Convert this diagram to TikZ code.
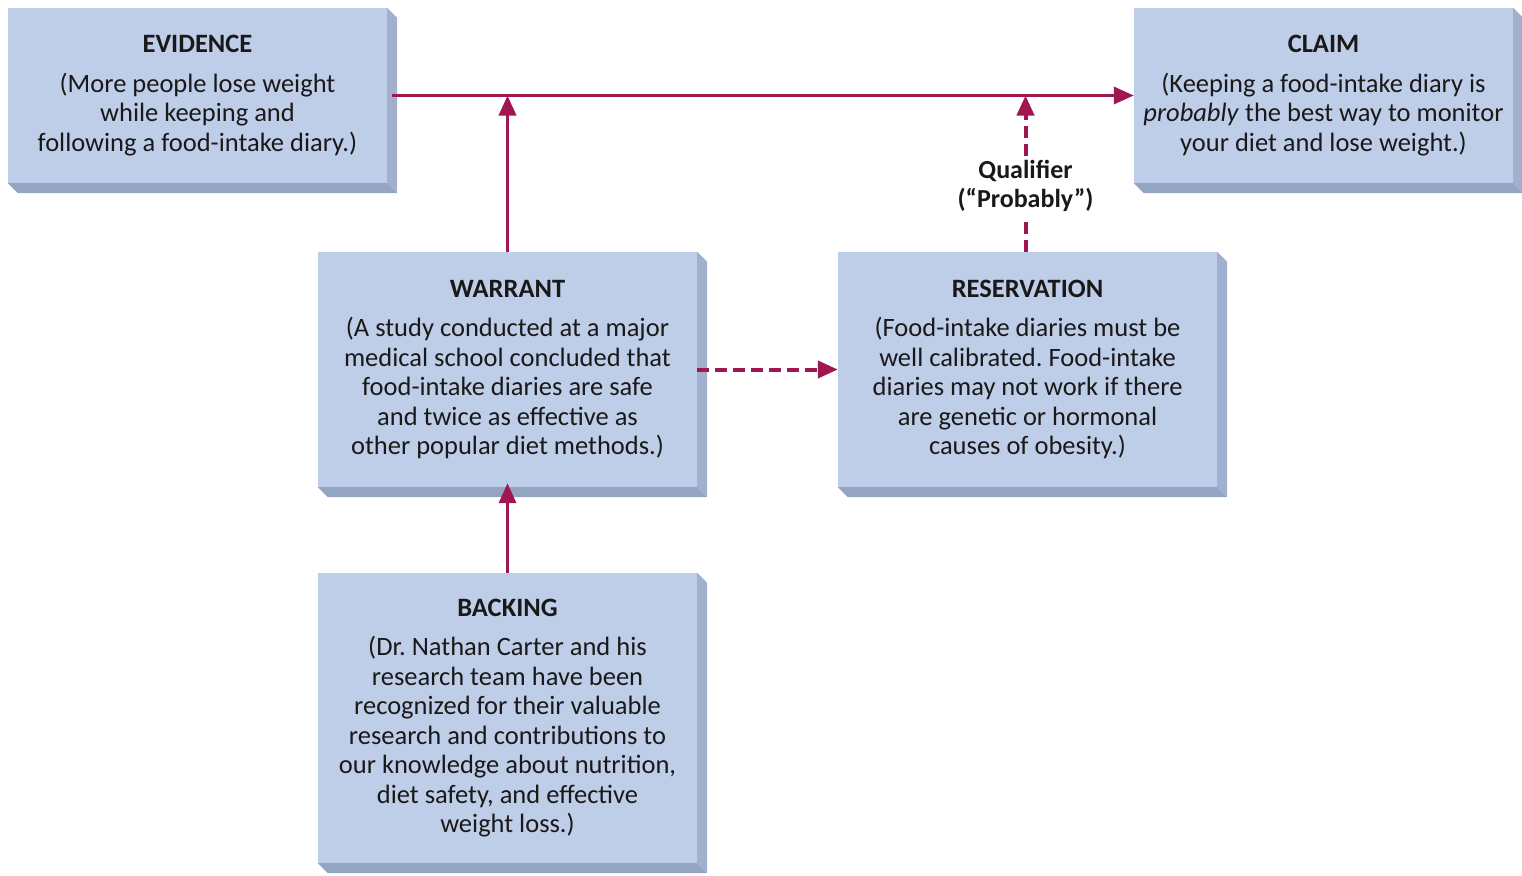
\documentclass[tikz,border=0pt]{standalone}
\usepackage{fontspec}
\setmainfont{Carlito}
\usepackage{xcolor}
\usetikzlibrary{arrows.meta}
\definecolor{slabface}{RGB}{191,206,232}
\definecolor{slabright}{RGB}{160,176,206}
\definecolor{slabbottom}{RGB}{148,164,195}
\definecolor{linkred}{RGB}{160,22,80}
\tikzset{
	slab/.style={
			fill=slabface, inner sep=0pt, align=center,
			minimum width=379pt, text=black!90,
			font=\fontsize{26.5}{29.5}\selectfont
		},
	link/.style={
			linkred, line width=3.5pt,
			-{Triangle[length=20pt,width=17pt]}
		},
	dashlink/.style={
			link, line width=4pt, dash pattern=on 12pt off 6pt
		}
}
\frenchspacing

\begin{document}
\begin{tikzpicture}[x=1pt, y=-1pt]
		\useasboundingbox (0,0) rectangle (1522,875);

		% Draw the boxes
		\node[slab, minimum height=175pt] (ev) at (197.5,95.5)
			{\textbf{EVIDENCE}\\[10pt](More people lose weight\\while keeping and\\following a food-intake diary.)};
		\node[slab, minimum height=175pt] (cl) at (1323.5,95.5)
			{\textbf{CLAIM}\\[10pt](Keeping a food-intake diary is\\\textit{probably} the best way to monitor\\your diet and lose weight.)};
		\node[slab, minimum height=235pt] (wa) at (507.5,369.5)
			{\textbf{WARRANT}\\[10pt](A study conducted at a major\\medical school concluded that\\food-intake diaries are safe\\and twice as effective as\\other popular diet methods.)};
		\node[slab, minimum height=235pt] (rs) at (1027.5,369.5)
			{\textbf{RESERVATION}\\[10pt](Food-intake diaries must be\\well calibrated. Food-intake\\diaries may not work if there\\are genetic or hormonal\\causes of obesity.)};
		\node[slab, minimum height=290pt] (bk) at (507.5,718)
			{\textbf{BACKING}\\[10pt](Dr. Nathan Carter and his\\research team have been\\recognized for their valuable\\research and contributions to\\our knowledge about nutrition,\\diet safety, and effective\\weight loss.)};

		% Draw the bevelled edges
		\foreach \n in {ev,cl,wa,rs,bk} {
				\fill[slabright] (\n.north east) -- ++(10,10) -- ([shift={(10,10)}]\n.south east) -- (\n.south east) -- cycle;
				\fill[slabbottom] (\n.south west) -- ++(10,10) -- ([shift={(10,10)}]\n.south east) -- (\n.south east) -- cycle;
			}

		% Qualifier label and the points on the main line
		\node[fill=white, inner sep=4pt, align=center, font=\bfseries\fontsize{26}{29.5}\selectfont, text=black!90]
			(ql) at (1025.5,186) {Qualifier\\(``Probably'')};
		\coordinate (wt) at (wa.north |- ev.east);
		\coordinate (qt) at (ql.north |- ev.east);

		% Draw the connectors
		\draw[link, shorten <=5pt] (ev.east) -- (cl.west);
		\draw[link] (wa.north) -- (wt);
		\draw[link, shorten >=-4pt] (bk.north) -- (wa.south);
		\draw[dashlink] (wa.east) -- (rs.west);
		\draw[dashlink, -] (rs.north -| ql.south) -- (ql.south);
		\draw[dashlink] (ql.north) -- (qt);
	\end{tikzpicture}
\end{document}
